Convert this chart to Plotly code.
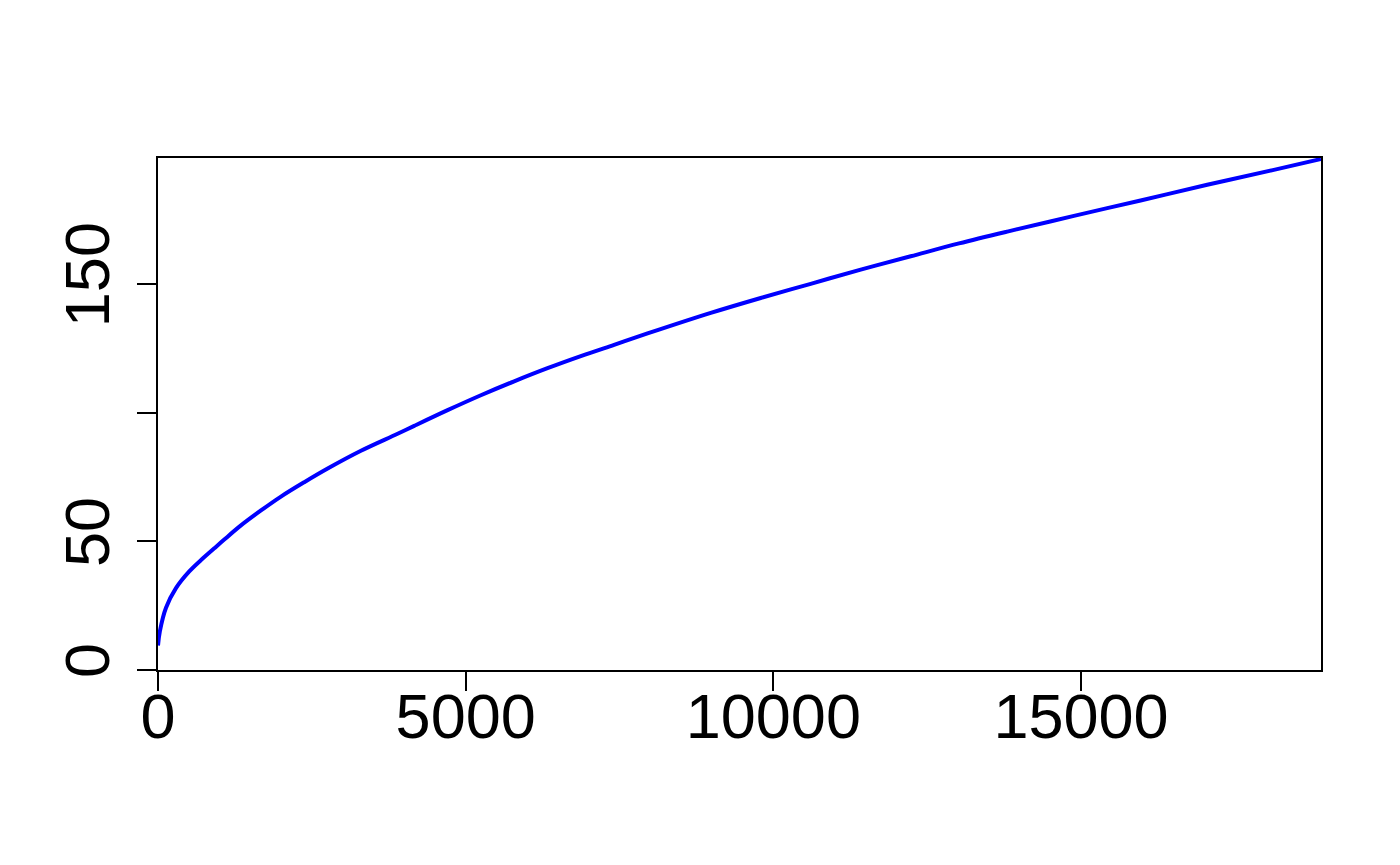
import plotly.graph_objects as go

# values
x_vals = [0, 30, 130, 292, 508, 726, 915, 1077, 1348, 1673, 1998, 2377, 2757, 3298,
          3894, 4164, 4706, 5247, 5788, 6330, 6871, 7412, 7955, 8983, 9795, 10607,
          11420, 12232, 13017, 13802, 14885, 15968, 17051, 18134, 18900]
y_vals = [9.5, 15.0, 24.2, 31.8, 38.3, 43.3, 47.3, 50.7, 56.2, 62.0, 67.4, 73.0, 78.3, 85.2,
          91.8, 94.9, 101.0, 106.8, 112.2, 117.3, 122.0, 126.4, 130.8, 138.8, 144.6, 150.1,
          155.6, 160.8, 165.8, 170.4, 176.5, 182.5, 188.6, 194.4, 198.6]

x_ticks = [0, 5000, 10000, 15000]
x_ticktext = ["0", "5000", "10000", "15000"]
y_ticks = [0, 50, 100, 150]
y_ticktext = ["0", "50", "", "150"]

fig = go.Figure()
fig.add_trace(go.Scatter(x=x_vals, y=y_vals, mode="lines",
                         line=dict(color="#0000ff", width=4, shape="spline", smoothing=1.0),
                         showlegend=False, hoverinfo="skip", cliponaxis=True))

font = dict(family="Liberation Sans, Arial, sans-serif", size=63, color="black")

fig.update_layout(
    width=1400, height=865,
    paper_bgcolor="white", plot_bgcolor="white",
    margin=dict(l=150, r=87, t=150, b=203),
    font=font,
)
fig.update_xaxes(range=[0, 18900], tickvals=x_ticks, ticktext=x_ticktext,
                 showgrid=False, zeroline=False, showline=True, mirror=True,
                 linecolor="black", linewidth=1.5, ticks="outside", ticklen=19,
                 tickwidth=1.5, tickcolor="black", tickfont=font,
                 ticklabelstandoff=-28)
fig.update_yaxes(range=[0, 199], tickvals=y_ticks, ticktext=y_ticktext,
                 showgrid=False, zeroline=False, showline=True, mirror=True,
                 linecolor="black", linewidth=1.5, ticks="outside", ticklen=19,
                 tickwidth=1.5, tickcolor="black", tickfont=font, tickangle=-90,
                 ticklabelstandoff=3)

fig.write_html("out.html")
